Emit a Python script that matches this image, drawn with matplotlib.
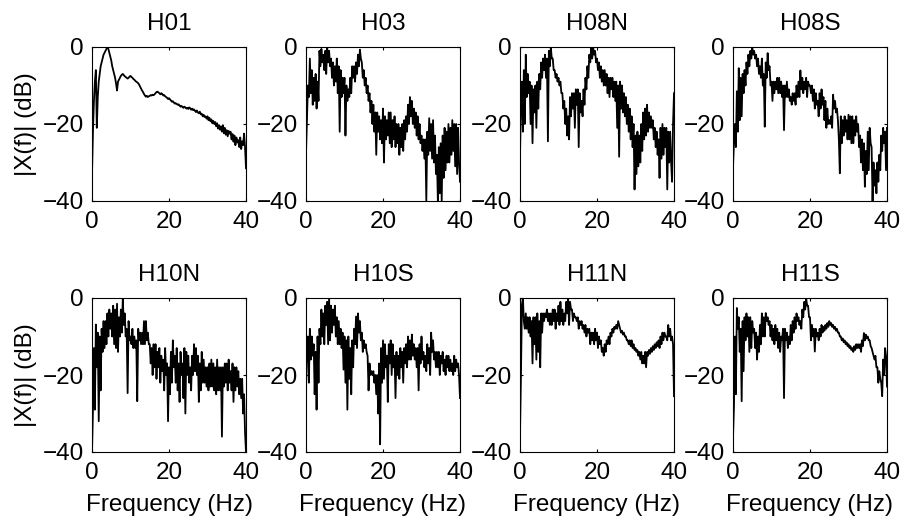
import numpy as np
import matplotlib
matplotlib.use('Agg')
import matplotlib.pyplot as plt

plt.rcParams['font.family'] = ['Liberation Sans', 'DejaVu Sans']

# frequency grid (Hz), 0.25 Hz steps, 0..40
freq = np.arange(161) * 0.25

titles = ['H01', 'H03', 'H08N', 'H08S', 'H10N', 'H10S', 'H11N', 'H11S']

h01 = [-33, -22, -14, -9, -6, -21, -13, -9,
       -7, -5, -4, -3, -2, -1.5, -1, -0.5,
       0, -0.5, -1.5, -2.5, -3.5, -5, -6, -7,
       -8, -9.5, -11.3, -9, -8.5, -8, -7.5, -7.2,
       -7, -7.3, -7.6, -7.8, -8, -8.2, -8, -7.7,
       -7.5, -7.8, -8, -8.3, -8.5, -8.8, -9, -9.2,
       -9.4, -9.8, -10.3, -10.8, -11.3, -11.7, -12.2, -12.6,
       -12.9, -12.7, -13, -12.8, -12.7, -12.5, -12.6, -12.4,
       -12.5, -12.3, -12, -11.7, -11.6, -11.8, -12, -12.3,
       -12, -12.2, -12.6, -12.5, -12.8, -13, -13.2, -13.5,
       -13.3, -13.6, -13.9, -14.2, -14.1, -14.4, -14.7, -14.6,
       -14.8, -15, -14.9, -15.2, -15.5, -15.3, -15.6, -15.8,
       -15.5, -15.7, -16, -15.8, -16.1, -15.7, -15.9, -16.3,
       -16, -16.4, -16.2, -16.6, -16.9, -16.5, -17, -17.2,
       -16.8, -17.5, -17.3, -18, -17.6, -18.2, -18, -18.6,
       -18, -19, -18.4, -19.3, -18.8, -19.8, -19.2, -20,
       -19.5, -20.6, -19.8, -21.2, -20.3, -21.5, -20.6, -22,
       -20.3, -22.4, -21, -22.8, -21.6, -23.2, -21.8, -22.5,
       -22, -24, -22.6, -24.6, -23, -25.5, -23.5, -24.8,
       -24.2, -26, -23.5, -26.5, -24.5, -25.5, -22.5, -26,
       -31.5]

h03 = [-27.6, -19, -10, -13, -3, -12, -6, -15,
       -8, -14, -7, -16, -9, -14, -1, -5,
       -0.5, -4, -2, -6, -1, -7, 0, -4,
       -1, -5, -3, -8, -4, -10, -5, -9,
       -3, -12, -5, -22, -6, -13, -8, -12,
       -8, -23, -10, -14, -11, -13, -8, -12,
       -5, -8, -5, -9, -4, -7, -2, -5,
       -0.7, -3, -4, -8, -6, -10, -8, -12,
       -10, -14, -12, -17, -14, -20, -15, -22,
       -17, -28, -17, -22, -18, -24, -19, -25,
       -16, -30, -18, -24, -19, -23, -17, -25,
       -17, -26, -19, -24, -18, -26, -20, -25,
       -20, -28, -21, -26, -20, -27, -19, -24,
       -18, -22, -15, -20, -13, -18, -14, -20,
       -16, -21, -17, -23, -18, -24, -20, -25,
       -23, -27, -24, -29, -24, -40, -22, -28,
       -18.5, -27, -20, -29, -19, -30, -23, -33,
       -28, -40, -26, -38, -25, -40, -23, -34,
       -21, -32, -22, -30, -20, -30, -21, -28,
       -19, -27, -20, -31, -20, -33, -21, -30,
       -35]

h08n = [-28, -15, -9, -22, -6, -20, -2, -13,
        -7, -12, -9, -20, -10, -25, -11, -17,
        -10, -21, -9, -16, -7, -11, -4, -8,
        -3, -6, -2, -8, -3, -24.5, -1, -5,
        0, -3, -3, -6, -6, -8, -7, -9,
        -8, -10, -9, -12, -12, -16, -14, -20,
        -16, -23, -18, -24, -13, -18, -12, -16,
        -12, -21, -11, -15, -11, -26, -12, -17,
        -14, -18, -11, -15, -8, -11, -5, -8,
        -2, -4, 0, -3, 0, -2, -1, -4,
        -3, -6, -4, -8, -5, -9, -6, -10,
        -6, -10, -7, -12, -8, -13, -8, -11,
        -8, -13, -9, -14, -9, -21, -10, -28.5,
        -9, -16, -10, -17, -12, -18, -13, -20,
        -15, -22, -16, -24, -18, -26, -20, -37,
        -23, -33, -22, -31, -23, -30, -20, -27,
        -17, -24, -16, -23, -15, -22, -17, -21,
        -18, -21, -19, -24, -21, -26, -22, -28,
        -24, -34, -21, -29, -20, -28, -21, -26,
        -21, -37, -22, -30, -22, -30, -35, -20,
        -12]

h08s = [-31, -25, -20, -26, -11.5, -22, -5.5, -19,
        -8, -18, -7, -12, -6, -10, -4, -7,
        -2, -5, -1, -3, 0, -2, -1, -3,
        -2, -5, -3, -7, -5, -8, -3, -10,
        -7, -20.7, -4, -8, -1.6, -6, -5, -10,
        -9, -14, -9, -12, -9, -11, -8, -12,
        -8, -12, -9, -13, -10, -21.6, -10, -13,
        -9, -13, -11, -14, -13, -15, -12, -14,
        -12, -15, -10, -13, -9, -13, -6.1, -11,
        -8, -12, -9, -11, -8, -13, -9, -10,
        -10, -12, -10, -14, -11, -16, -12, -15,
        -14, -18, -12, -16, -11, -15, -13, -19,
        -14, -21, -16, -20, -19, -20, -18, -21,
        -12.4, -16, -14, -17, -16, -19, -24, -32.8,
        -18, -25, -19, -23, -18, -22, -19, -24,
        -17.6, -24, -18, -25, -18, -25, -19, -23,
        -18, -22, -20, -26, -23, -30, -24, -32,
        -25, -36.3, -27, -33, -22, -32, -21, -25,
        -26, -40, -30, -36, -32, -38, -30, -35,
        -28, -32, -23, -27, -21, -25, -22, -32,
        -21]

h10n = [-40, -29, -13, -29, -6.9, -18, -9, -32,
        -10, -24, -8, -14, -6, -13, -6, -12,
        -4, -10, -3, -8, -4, -10, -2, -12,
        -3, -13, -1.5, -14, -5, -10, -3, -9,
        0, -7, -4, -10, -8, -24.7, -6, -11,
        -10, -12, -8, -13, -10, -13, -11, -26.8,
        -8, -11, -9, -12, -9, -12, -6, -12,
        -6, -11, -9, -12, -12, -17, -13, -20,
        -12, -18, -12, -21, -14, -18, -13, -22,
        -15, -19, -16, -24, -13, -20, -17, -32,
        -18, -25, -14, -22, -11, -18, -15, -22,
        -13, -24, -17, -27, -14, -20, -17, -26,
        -13, -30, -14, -20, -15, -22, -18, -24,
        -15, -20, -12, -19, -13, -20, -15, -27,
        -17, -24, -14, -22, -16, -22, -18, -23,
        -18, -24, -17, -23, -16, -23, -17, -24,
        -18, -25, -16, -24, -18, -24, -18, -36,
        -18, -23, -17, -22, -17, -24, -16, -22,
        -19, -24, -17, -27, -18, -24, -18, -23,
        -19, -25, -21, -26, -21, -30, -25, -35,
        -40]

h10s = [-24.2, -12, -10, -22, -8, -16, -10, -15,
        -12, -25, -14, -29, -10, -22, -8, -12,
        -3, -10, -4, -12, -2, -7, -1, -12,
        0, -11, -2, -9, -3, -7, -2, -10,
        -5, -12, -6, -12, -8, -13, -9, -18.6,
        -10, -22, -11, -29, -10, -21, -13, -25,
        -11, -18, -8, -12, -4.8, -13, -4, -9,
        -6, -11, -9, -14, -11, -13, -12, -14,
        -15, -24, -17, -20, -19, -20, -19, -22,
        -20, -25, -20, -30, -17, -38, -13, -22,
        -11, -21, -12, -18, -15, -27, -12, -17,
        -11, -20, -12, -18, -15, -26, -14, -20,
        -15, -21, -13, -18, -14, -22, -13, -17,
        -12, -18, -10, -16, -11, -16, -9.5, -15,
        -12, -16, -13, -18, -13, -24, -12, -17,
        -10, -16, -14, -18, -15, -19, -12, -17,
        -13, -20, -9, -14, -11, -16, -14, -18,
        -14, -18, -14, -20, -15, -17, -14, -19,
        -16, -20, -15, -18, -15, -19, -16, -19,
        -17, -20, -15, -19, -16, -18, -17, -20,
        -26]

h11n = [-35.5, -20, -1.7, 0, -6, -8, -4, -8,
        -5, -9, -5, -10, -6, -17, -5, -12,
        -5, -16, -4, -14, -6, -18, -4, -9,
        -4, -6, -4, -5, -3, -6, -4, -7,
        -4, -7, -3, -6, -3, -8, -4, -6,
        -2, -7, -1, -6, -3, -7, -4, -6,
        -1, -4, 0, -7, -1, -3, -3, -6,
        -4, -5, -5, -6, -5, -8, -6, -7,
        -6, -8, -7, -9, -7, -10, -8, -9,
        -8, -12, -9, -11, -9, -12, -8, -11,
        -9, -13, -10, -12, -11, -14, -13, -15,
        -12, -14, -11, -12, -10, -12, -9, -10,
        -8, -9, -7.5, -8, -7, -8, -6, -7,
        -8, -9, -8.5, -9.5, -9, -10, -10, -11,
        -11, -12, -11, -12.5, -11, -13, -12, -13.5,
        -13, -14, -13.5, -15, -14, -16, -14, -17,
        -15, -17, -14, -18, -14, -15, -13.5, -14.5,
        -13, -14, -12.5, -13.5, -12, -13, -11.5, -12.5,
        -11, -13, -10, -12, -9, -11, -9, -10,
        -10, -11, -7, -10, -8, -11, -10, -12,
        -25.5]

h11s = [-36.4, -28, -10, -25, -2.6, -8, -5, -14,
        -8, -26.8, -6, -19, -5, -11, -4, -10,
        -5, -14, -5, -13, -6, -9, -8, -13,
        -9, -16, -10, -14, -7, -12, -4, -10,
        -5, -10, -3.9, -6, -5, -7, -6, -10,
        -7, -11, -8, -12, -7, -11, -8, -13,
        -9, -14, -10, -11, -8, -26, -8, -11,
        -9, -13, -10, -12, -7, -11, -6, -9,
        -5, -8, -4, -6, -5, -7, -6, -8,
        -3, -5, -1, -3, 0, -2, -2, -5,
        -5, -11, -7, -10, -8, -13.9, -8, -10,
        -9, -11, -8, -10, -7, -9, -7.5, -8.5,
        -7, -8, -6.5, -7.5, -6, -7, -6.5, -7.5,
        -7, -8, -7.5, -8.5, -8, -9, -9, -10,
        -10, -11, -10.5, -11.5, -11, -12, -11.5, -12.5,
        -12, -13, -12.5, -13.5, -13, -14, -12.5, -13.5,
        -12, -13, -12, -13, -12, -14, -11, -12.5,
        -9.1, -11, -9.5, -10.5, -10, -11, -11, -12.5,
        -13, -14, -15, -16, -15, -18, -18, -22,
        -19, -21, -22, -25.5, -16, -20, -13, -15,
        -23]

spectra = [h01, h03, h08n, h08s, h10n, h10s, h11n, h11s]

fig = plt.figure(figsize=(9.03, 5.22), dpi=100)
W, H = 903.0, 522.0
lefts = [92, 306, 520, 733]
tops = [47, 298]
size = 154
fs = 17.5

for i, (name, spec) in enumerate(zip(titles, spectra)):
    row, col = divmod(i, 4)
    ax = fig.add_axes([lefts[col] / W, 1 - (tops[row] + size) / H, size / W, size / H])
    ax.plot(freq, spec, color='black', lw=1.3)
    ax.set_xlim(0, 40)
    ax.set_ylim(-40, 0)
    ax.set_xticks([0, 20, 40])
    ax.set_yticks([-40, -20, 0])
    ax.tick_params(direction='in', length=2, width=0.8, top=True, right=True,
                   labelsize=fs)
    ax.tick_params(axis='x', pad=7.5)
    ax.tick_params(axis='y', pad=6)
    for s in ax.spines.values():
        s.set_linewidth(0.8)
    ax.set_title(name, fontsize=fs, pad=12)
    if col == 0:
        ax.set_ylabel('|X(f)| (dB)', fontsize=fs)
        ax.yaxis.set_label_coords(-0.36, 0.5)
    if row == 1:
        ax.set_xlabel('Frequency (Hz)', fontsize=fs, labelpad=7)

fig.savefig('out.png', dpi=100)
